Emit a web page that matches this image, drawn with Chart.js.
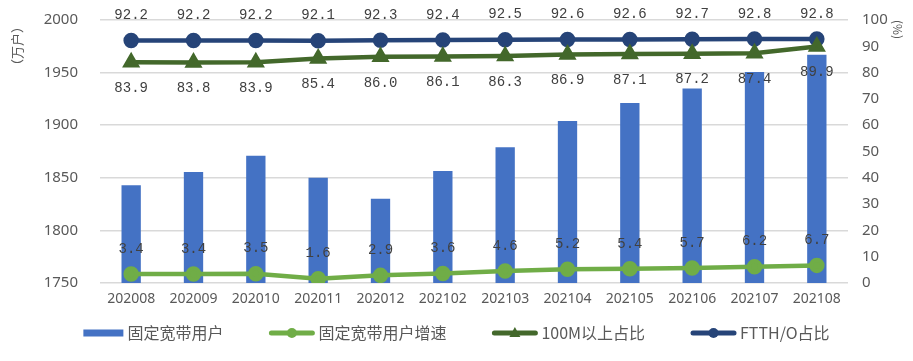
<!DOCTYPE html>
<html lang="zh-CN">
<head>
<meta charset="UTF-8">
<title>固定宽带用户</title>
<script src="https://cdn.jsdelivr.net/npm/chart.js"></script>
<style>
    html, body { margin: 0; padding: 0; background: #fff; }
    #wrap { width: 913px; height: 361px; }
</style>
</head>
<body>
<div id="wrap"><canvas id="chart" width="913" height="361"></canvas></div>
<script>
// 数据
const months = ['202008', '202009', '202010', '202011', '202012', '202102',
                '202103', '202104', '202105', '202106', '202107', '202108'];
const users = [1843, 1855.5, 1871, 1850, 1830, 1856.5, 1879, 1904, 1921, 1935, 1950.5, 1967]; // 万户
const growth = [3.4, 3.4, 3.5, 1.6, 2.9, 3.6, 4.6, 5.2, 5.4, 5.7, 6.2, 6.7];
const over100M = [83.9, 83.8, 83.9, 85.4, 86.0, 86.1, 86.3, 86.9, 87.1, 87.2, 87.4, 89.9];
const ftth = [92.2, 92.2, 92.2, 92.1, 92.3, 92.4, 92.5, 92.6, 92.6, 92.7, 92.8, 92.8];

const tickColor = '#595959';
const labelFont = '14px "Liberation Mono", "DejaVu Sans Mono", monospace';

// 数据标签: 每个系列的偏移 (null = 不显示)
const labelOffsets = [null, -25, 26, -25];

const dataLabels = {
    id: 'dataLabels',
    afterDatasetsDraw(chart) {
        const ctx = chart.ctx;
        ctx.save();
        ctx.font = labelFont;
        ctx.fillStyle = '#404040';
        ctx.textAlign = 'center';
        ctx.textBaseline = 'middle';
        chart.data.datasets.forEach((ds, i) => {
            const off = labelOffsets[i];
            if (off === null) return;
            chart.getDatasetMeta(i).data.forEach((pt, j) => {
                ctx.fillText(ds.data[j].toFixed(1), pt.x, pt.y + off);
            });
        });
        ctx.restore();
    }
};

// 底部图例 (柱 = 色块, 折线 = 线加标记)
const bottomLegend = {
    id: 'bottomLegend',
    afterDraw(chart) {
        const ctx = chart.ctx;
        const items = chart.data.datasets;
        ctx.save();
        ctx.font = '16px "Noto Sans CJK SC", sans-serif';
        const gap = 4, spacing = 46;
        const widths = items.map(ds => (ds.type === 'bar' ? 40 : 45) + gap + ctx.measureText(ds.label).width);
        const total = widths.reduce((a, b) => a + b, 0) + spacing * (items.length - 1);
        let x = (chart.width - total) / 2;
        const y = chart.height - 28;
        items.forEach((ds, i) => {
            if (ds.type === 'bar') {
                ctx.fillStyle = ds.backgroundColor;
                ctx.fillRect(x, y - 3.5, 40, 7);
                x += 40;
            } else {
                ctx.strokeStyle = ds.borderColor;
                ctx.lineWidth = 5;
                ctx.lineCap = 'round';
                ctx.beginPath();
                ctx.moveTo(x + 2, y);
                ctx.lineTo(x + 43, y);
                ctx.stroke();
                ctx.fillStyle = ds.borderColor;
                ctx.beginPath();
                if (ds.pointStyle === 'triangle') {
                    ctx.moveTo(x + 22.5, y - 6);
                    ctx.lineTo(x + 28, y + 4);
                    ctx.lineTo(x + 17, y + 4);
                    ctx.closePath();
                } else {
                    ctx.arc(x + 22.5, y, 5, 0, Math.PI * 2);
                }
                ctx.fill();
                x += 45;
            }
            x += gap;
            ctx.fillStyle = tickColor;
            ctx.textAlign = 'left';
            ctx.textBaseline = 'middle';
            ctx.fillText(ds.label, x, y);
            x += ctx.measureText(ds.label).width + spacing;
        });
        ctx.restore();
    }
};

new Chart(document.getElementById('chart'), {
    data: {
        labels: months,
        datasets: [
            {
                type: 'bar',
                label: '固定宽带用户',
                data: users,
                yAxisID: 'y',
                backgroundColor: '#4472C4',
                categoryPercentage: 0.62,
                barPercentage: 0.5,
                order: 4
            },
            {
                type: 'line',
                label: '固定宽带用户增速',
                data: growth,
                yAxisID: 'y1',
                borderColor: '#70AD47',
                backgroundColor: '#70AD47',
                borderWidth: 4.5,
                pointRadius: 5.5,
                pointStyle: 'circle',
                order: 3
            },
            {
                type: 'line',
                label: '100M以上占比',
                data: over100M,
                yAxisID: 'y1',
                borderColor: '#43682B',
                backgroundColor: '#43682B',
                borderWidth: 4.5,
                pointRadius: 6,
                pointStyle: 'triangle',
                order: 1
            },
            {
                type: 'line',
                label: 'FTTH/O占比',
                data: ftth,
                yAxisID: 'y1',
                borderColor: '#264478',
                backgroundColor: '#264478',
                borderWidth: 4.5,
                pointRadius: 5.5,
                pointStyle: 'circle',
                order: 2
            }
        ]
    },
    options: {
        responsive: false,
        animation: false,
        layout: { padding: { top: 20, left: 0, right: 0, bottom: 50 } },
        plugins: {
            legend: { display: false },
            tooltip: { enabled: false }
        },
        scales: {
            x: {
                grid: { display: false },
                border: { display: false },
                ticks: {
                    color: tickColor,
                    font: { family: 'Noto Sans', size: 14 },
                    padding: 0,
                    maxRotation: 0
                },
                afterFit: s => { s.height = 28; }
            },
            y: {
                position: 'left',
                min: 1750,
                max: 2000,
                // 刻度线透明, 只用来把标签推离绘图区
                grid: { color: '#d9d9d9', lineWidth: 1.5, drawTicks: true, tickLength: 18, tickColor: 'transparent' },
                border: { display: false },
                ticks: {
                    stepSize: 50,
                    color: tickColor,
                    font: { family: 'Noto Sans', size: 15 },
                    padding: 4,
                    callback: v => String(v)
                },
                title: {
                    display: true,
                    text: '（万户）',
                    align: 'end',
                    color: tickColor,
                    font: { family: 'Noto Sans CJK SC', size: 13 },
                    padding: { top: 9, bottom: 0 }
                },
                afterFit: s => { s.width = 100; }
            },
            y1: {
                position: 'right',
                min: 0,
                max: 100,
                grid: { drawOnChartArea: false, drawTicks: true, tickLength: 10, tickColor: 'transparent' },
                border: { display: false },
                ticks: {
                    stepSize: 10,
                    color: tickColor,
                    font: { family: 'Noto Sans', size: 15 },
                    padding: 4
                },
                title: {
                    display: true,
                    text: '(%)',
                    align: 'end',
                    color: tickColor,
                    font: { family: 'Noto Sans CJK SC', size: 12 },
                    padding: { top: 8, bottom: 0 }
                },
                afterFit: s => { s.width = 65; }
            }
        }
    },
    plugins: [dataLabels, bottomLegend]
});
</script>
</body>
</html>
